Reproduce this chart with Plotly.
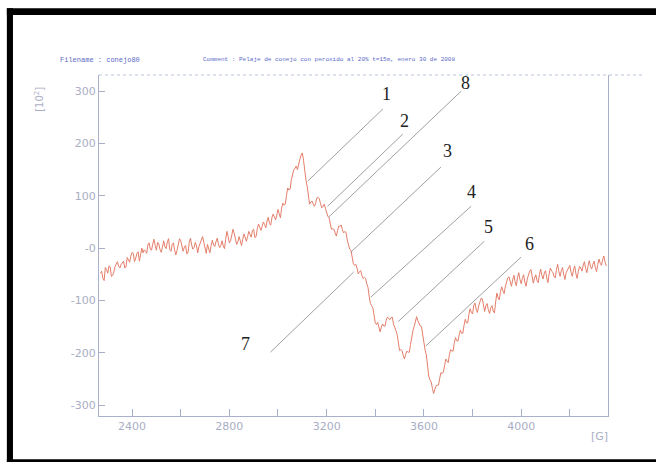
import plotly.graph_objects as go

# ---- data ----
field_start, field_step = 2270, 10
intensity = [
    -48, -58, -37, -48, -36, -52, -35, -26, -38, -27,
    -38, -18, -27, -8, -26, -10, -25, 0, -3, -10,
    10, -4, 17, -4, 8, -8, 14, -1, 18, -6,
    10, -13, 6, 14, -6, 5, -9, 19, -2, 11,
    -9, 9, 22, -3, 7, -9, 15, 3, 19, 1,
    14, -1, 32, 10, 23, 28, 7, 22, 5, 27,
    13, 32, 21, 36, 22, 46, 34, 50, 39, 59,
    44, 65, 54, 74, 58, 86, 84, 115, 113, 143,
    152, 150, 170, 182, 145, 118, 84, 90, 80, 96,
    94, 77, 84, 66, 58, 36, 36, 23, 42, 44,
    29, 30, 4, -4, -30, -31, -49, -43, -58, -58,
    -75, -106, -114, -143, -142, -160, -145, -149, -132, -137,
    -132, -154, -165, -196, -196, -212, -197, -199, -169, -150,
    -131, -146, -150, -184, -204, -245, -256, -278, -263, -262,
    -238, -237, -212, -219, -194, -197, -171, -178, -157, -163,
    -136, -143, -116, -126, -105, -123, -105, -97, -121, -106,
    -125, -110, -124, -86, -99, -74, -87, -66, -55, -73,
    -52, -72, -47, -68, -51, -73, -51, -41, -67, -51,
    -66, -40, -59, -43, -66, -38, -46, -57, -31, -54,
    -37, -60, -42, -33, -54, -34, -58, -35, -44, -26,
    -47, -24, -40, -25, -45, -21, -33, -15, -34,
]
# readings half-way between the samples above (field + 5 G)
intensity_mid = [
    -44, -62, -41, -34, -54, -46, -30, -35, -31, -25,
    -36, -23, -15, -10, -19, -7, -13, -9, -6, 6,
    -2, 8, 5, 11, -3, 2, 3, 12, -3, 7,
    -4, -4, 18, 0, 2, -11, 11, 6, 1, 4,
    3, 17, 11, -10, 0, 5, 6, 12, 8, 5,
    4, 17, 22, 14, 36, 16, 12, 14, 17, 21,
    22, 26, 34, 20, 37, 40, 42, 45, 52, 47,
    58, 60, 63, 66, 76, 82, 101, 111, 131, 150,
    157, 162, 178, 168, 130, 98, 88, 84, 86, 97,
    85, 80, 76, 61, 45, 37, 29, 34, 42, 35,
    32, 15, -2, -16, -33, -38, -45, -52, -56, -68,
    -92, -110, -128, -146, -151, -151, -149, -138, -134, -133,
    -145, -158, -182, -194, -205, -203, -199, -184, -158, -139,
    -139, -149, -166, -195, -226, -252, -268, -270, -262, -249,
    -240, -225, -216, -203, -197, -181, -177, -166, -163, -148,
    -143, -127, -123, -110, -117, -111, -96, -112, -110, -118,
    -114, -120, -103, -95, -83, -82, -73, -57, -66, -61,
    -64, -56, -60, -58, -65, -59, -44, -56, -57, -62,
    -51, -52, -48, -57, -49, -44, -54, -41, -45, -43,
    -51, -47, -36, -46, -42, -49, -44, -38, -33, -39,
    -34, -35, -31, -37, -31, -29, -22, -27,
]

x_tick_vals = [2400, 2800, 3200, 3600, 4000]
x_tick_text = ["2400", "2800", "3200", "3600", "4000"]
y_tick_vals = [300, 200, 100, 0, -100, -200, -300]
y_tick_text = ["300", "200", "100", "-0", "-100", "-200", "-300"]

# peak markers: label, label position, leader line (start near label, end on curve)
peak_labels = ["1", "2", "8", "3", "4", "5", "6", "7"]
label_x = [3447, 3522, 3773, 3699, 3794, 3864, 4033, 2866]
label_y = [294, 243, 315, 185, 107, 40, 8, -184]
leader_x0 = [3431, 3513, 3753, 3670, 3794, 3848, 4000, 2969]
leader_y0 = [266, 218, 300, 155, 80, 13, -17, -199]
leader_x1 = [3122, 3204, 3208, 3299, 3381, 3493, 3608, 3311]
leader_y1 = [128, 80, 59, -8, -94, -141, -187, -46]

# build the full trace by interleaving the two readings
xs, ys = [], []
for i, v in enumerate(intensity):
    f = field_start + i * field_step
    xs.append(f)
    ys.append(v)
    if i < len(intensity_mid):
        xs.append(f + field_step / 2)
        ys.append(intensity_mid[i])

axis_col = "#a8b0cc"
label_col = "#a9aec4"

fig = go.Figure()
fig.add_trace(go.Scatter(x=xs, y=ys, mode="lines",
                         line=dict(color="#e47e6a", width=1), hoverinfo="skip"))

shapes = []
for xa, ya, xb, yb in zip(leader_x0, leader_y0, leader_x1, leader_y1):
    shapes.append(dict(type="line", xref="x", yref="y", x0=xa, y0=ya, x1=xb, y1=yb,
                       line=dict(color="#a0a0a0", width=1)))
# dotted top border of the frame
shapes.append(dict(type="line", xref="paper", yref="paper", x0=0, x1=1.07, y0=1, y1=1,
                   line=dict(color="#b8c4dc", width=1, dash="dot")))
# black scan border (left, top, bottom)
shapes.append(dict(type="rect", xref="paper", yref="paper", x0=-0.181, x1=-0.169,
                   y0=-0.135, y1=1.196, fillcolor="black", line=dict(width=0)))
shapes.append(dict(type="rect", xref="paper", yref="paper", x0=-0.181, x1=1.1,
                   y0=1.176, y1=1.196, fillcolor="black", line=dict(width=0)))
shapes.append(dict(type="rect", xref="paper", yref="paper", x0=-0.181, x1=1.1,
                   y0=-0.14, y1=-0.127, fillcolor="black", line=dict(width=0)))

annotations = []
for t, lx, ly in zip(peak_labels, label_x, label_y):
    annotations.append(dict(x=lx, y=ly, xref="x", yref="y", text=t, showarrow=False,
                            font=dict(family="Liberation Serif", size=18, color="#222")))
annotations.append(dict(xref="paper", yref="paper", x=-0.08, y=1.045, xanchor="left",
                        yanchor="middle", text="Filename : conejo80", showarrow=False,
                        font=dict(family="Liberation Mono", size=7, color="#5a6ac8")))
annotations.append(dict(xref="paper", yref="paper", x=0.2, y=1.045, xanchor="left",
                        yanchor="middle",
                        text="Comment : Pelaje de conejo con peroxido al 20% t=15m, enero 30 de 2008",
                        showarrow=False,
                        font=dict(family="Liberation Mono", size=6, color="#5a6ac8")))
annotations.append(dict(xref="paper", yref="paper", x=-0.118, y=0.93,
                        xanchor="center", yanchor="middle",
                        text="[10<sup>2</sup>]", textangle=-90, showarrow=False,
                        font=dict(family="DejaVu Sans", size=10, color=label_col)))
annotations.append(dict(xref="paper", yref="paper", x=0.984, y=-0.06,
                        xanchor="center", yanchor="middle",
                        text="[G]", showarrow=False,
                        font=dict(family="DejaVu Sans", size=11, color=label_col)))

fig.update_layout(
    width=656, height=462,
    margin=dict(l=99, r=48, t=75, b=46),
    paper_bgcolor="white", plot_bgcolor="white",
    showlegend=False,
    shapes=shapes, annotations=annotations,
    xaxis=dict(range=[2264, 4357], showgrid=False, zeroline=False,
               showline=True, linecolor=axis_col, linewidth=1, mirror=False,
               tickvals=x_tick_vals, ticktext=x_tick_text,
               ticks="inside", ticklen=7, tickcolor=axis_col,
               minor=dict(dtick=200, tick0=2400, ticks="inside", ticklen=7, tickcolor=axis_col),
               tickfont=dict(family="DejaVu Sans", size=11, color=label_col)),
    yaxis=dict(range=[-321, 331], showgrid=False, zeroline=False,
               showline=True, linecolor=axis_col, linewidth=1, mirror=True,
               tickvals=y_tick_vals, ticktext=y_tick_text,
               ticks="inside", ticklen=6, tickcolor=axis_col,
               tickfont=dict(family="DejaVu Sans", size=11, color=label_col)),
)

fig.write_html(
    "out.html", config={"staticPlot": True},
    post_script="document.body.style.margin='0px';")
